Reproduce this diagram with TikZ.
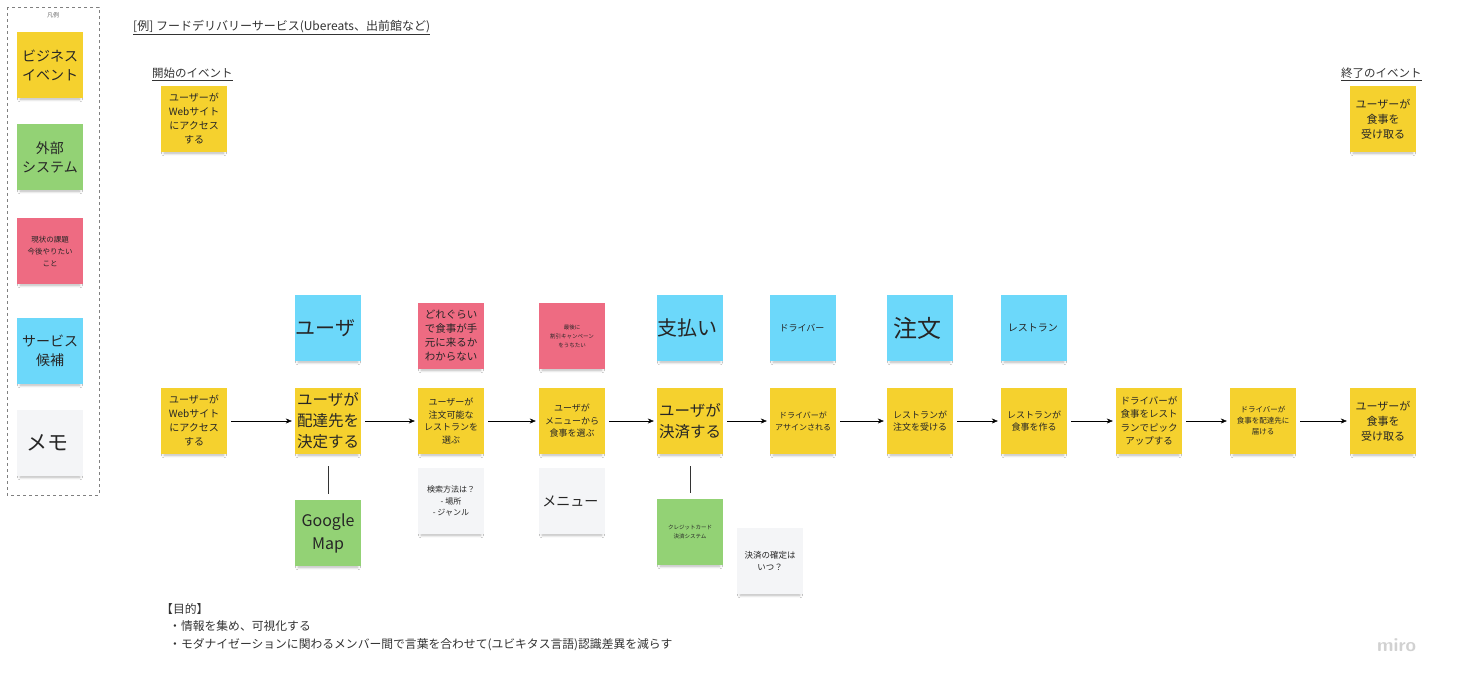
\documentclass[tikz,border=0pt]{standalone}
\usepackage{fontspec}
\setmainfont{Noto Sans CJK JP}
\usetikzlibrary{shadows.blur,arrows.meta}

\definecolor{stickyyellow}{HTML}{F5D12E}
\definecolor{stickygreen}{HTML}{93D275}
\definecolor{stickypink}{HTML}{EE6B82}
\definecolor{stickyblue}{HTML}{6CD8FA}
\definecolor{stickywhite}{HTML}{F4F5F7}

\newcommand{\sz}[2]{\fontsize{#1}{#2}\selectfont}

\tikzset{
  note/.style={minimum width=66, minimum height=66, inner sep=1pt, align=center,
    text=black!85, blur shadow={shadow xshift=0pt, shadow yshift=-5pt, shadow scale=0.9,
    shadow blur radius=3pt, shadow blur steps=8, shadow opacity=30}},
  event/.style={note, fill=stickyyellow},
  extsys/.style={note, fill=stickygreen},
  issue/.style={note, fill=stickypink},
  service/.style={note, fill=stickyblue},
  memo/.style={note, fill=stickywhite},
  flow/.style={-{Stealth[length=6pt,width=5pt]}, black, thin},
  heading/.style={anchor=west, text=black!80, inner sep=0pt}
}

\begin{document}
\begin{tikzpicture}[x=1pt, y=-1pt]
  \useasboundingbox[fill=white] (0,0) rectangle (1457,686);

  % legend
  \draw [dashed, black!50] (7,7) rectangle (99,495);
  \node [font=\sz{6}{7}, text=black!60] (legendtitle) at (53,15) { 凡例 };
  \node [event, font=\sz{14}{19}] (legbiz) at (50,65) { ビジネス\\イベント };
  \node [extsys, font=\sz{14}{19}] (legext) at (50,157) { 外部\\システム };
  \node [issue, font=\sz{7.5}{12}] (legissue) at (50,251) { 現状の課題\\今後やりたい\\こと };
  \node [service, font=\sz{14}{19}] (legsvc) at (50,351) { サービス\\候補 };
  \node [memo, font=\sz{21}{24}] (legmemo) at (50,443) { メモ };

  % headings
  \node [heading, font=\sz{12}{14}] (title) at (133,28) { \underline{[例] フードデリバリーサービス(Ubereats、出前館など)} };
  \node [heading, font=\sz{11.5}{13}] (starthead) at (152,74) { \underline{開始のイベント} };
  \node [heading, font=\sz{11.5}{13}] (endhead) at (1341,74) { \underline{終了のイベント} };
  \node [event, font=\sz{10}{14}] (startev) at (194,119) { ユーザーが\\Webサイト\\にアクセス\\する };
  \node [event, font=\sz{11}{15}] (endev) at (1383,119) { ユーザーが\\食事を\\受け取る };

  % main flow
  \node [event, font=\sz{10}{14}] (access) at (194,421) { ユーザーが\\Webサイト\\にアクセス\\する };
  \node [event, font=\sz{15.5}{21}] (dest) at (328,421) { ユーザが\\配達先を\\決定する };
  \node [event, font=\sz{9}{12.5}] (restaurant) at (451,421) { ユーザーが\\注文可能な\\レストランを\\選ぶ };
  \node [event, font=\sz{9}{12.5}] (meal) at (572,421) { ユーザが\\メニューから\\食事を選ぶ };
  \node [event, font=\sz{15.5}{21}] (pay) at (690,421) { ユーザが\\決済する };
  \node [event, font=\sz{8}{12}] (assign) at (803,421) { ドライバーが\\アサインされる };
  \node [event, font=\sz{9}{12.5}] (accept) at (920,421) { レストランが\\注文を受ける };
  \node [event, font=\sz{9}{12.5}] (cook) at (1034,421) { レストランが\\食事を作る };
  \node [event, font=\sz{9.5}{13.5}] (pickup) at (1149,421) { ドライバーが\\食事をレスト\\ランでピック\\アップする };
  \node [event, font=\sz{7.5}{11}] (deliver) at (1263,421) { ドライバーが\\食事を配達先に\\届ける };
  \node [event, font=\sz{11}{15}] (receive) at (1383,421) { ユーザーが\\食事を\\受け取る };

  \foreach \a/\b in {access/dest, dest/restaurant, restaurant/meal, meal/pay, pay/assign,
                     assign/accept, accept/cook, cook/pickup, pickup/deliver, deliver/receive}
    \draw [flow] ([xshift=4pt]\a.east) -- ([xshift=-3pt]\b.west);

  % upper row
  \node [service, font=\sz{20}{24}] (user) at (328,328) { ユーザ };
  \node [issue, font=\sz{10.5}{14}] (howlong) at (451,336) { どれぐらい\\で食事が手\\元に来るか\\わからない };
  \node [issue, font=\sz{5.5}{9}] (campaign) at (572,336) { 最後に\\割引キャンペーン\\をうちたい };
  \node [service, font=\sz{20}{24}] (payment) at (690,328) { 支払い };
  \node [service, font=\sz{9}{12}] (driver) at (803,328) { ドライバー };
  \node [service, font=\sz{24}{28}] (order) at (920,328) { 注文 };
  \node [service, font=\sz{10}{13}] (shop) at (1034,328) { レストラン };

  % lower row
  \node [extsys, font=\sz{16}{23}] (gmap) at (328,533) { Google\\Map };
  \node [memo, font=\sz{8}{11.5}] (search) at (451,501) { 検索方法は？\\- 場所\\- ジャンル };
  \node [memo, font=\sz{14}{18}] (menu) at (572,501) { メニュー };
  \node [extsys, font=\sz{5.5}{9}] (card) at (690,532) { クレジットカード\\決済システム };
  \node [memo, font=\sz{8.5}{12}] (confirm) at (770,561) { 決済の確定は\\いつ？ };

  \draw [black!80] ([yshift=-12pt]dest.south) -- ([yshift=6pt]gmap.north);
  \draw [black!80] ([yshift=-12pt]pay.south) -- ([yshift=6pt]card.north);

  % purpose
  \node [heading, anchor=north west, align=left, font=\sz{11.8}{17.5}] (purpose) at (161,603)
    { 【目的】\\
      \hspace*{8pt}・情報を集め、可視化する\\
      \hspace*{8pt}・モダナイゼーションに関わるメンバー間で言葉を合わせて(ユビキタス言語)認識差異を減らす };

  \node [text=black!18, anchor=west, inner sep=0pt, font=\sz{19}{21}\sffamily\bfseries] (logo) at (1377,645) { miro };
\end{tikzpicture}
\end{document}
